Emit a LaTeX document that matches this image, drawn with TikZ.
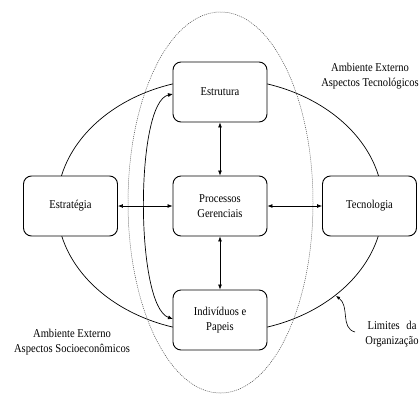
\documentclass[tikz,border=0pt]{standalone}
\usepackage{fontspec}
\setmainfont{Liberation Serif}
\newfontfamily\narrowserif{Liberation Serif}[FakeStretch=0.88]
\usetikzlibrary{arrows.meta}
\tikzset{
  block/.style={draw, line width=0.9pt, rounded corners=8pt, fill=white,
    minimum width=94pt, minimum height=60pt, align=center, font=\narrowserif\fontsize{12}{14.5}\selectfont},
  link/.style={line width=0.7pt, {Latex[length=5pt,width=4pt]}-{Latex[length=5pt,width=4pt]}},
  label/.style={align=center, font=\narrowserif\fontsize{12}{14.5}\selectfont},
  boundary/.style={line width=0.7pt},
  scopeline/.style={line width=0.5pt, draw=black!70, dash pattern=on 1pt off 1pt}
}
\begin{document}
\begin{tikzpicture}[x=1pt,y=-1pt]
\useasboundingbox (0,0) rectangle (420,394);
% organisation boundary and scope of management
\draw[boundary] (220,205.5) ellipse [x radius=163, y radius=127];
\draw[scopeline] (220.5,202.5) ellipse [x radius=92.5, y radius=190.5];
% blocks
\node[block] (est) at (220,92) {Estrutura};
\node[block] (proc) at (220,206) {Processos\\Gerenciais};
\node[block] (estr) at (70.5,206) {Estratégia};
\node[block] (tec) at (369.5,206) {Tecnologia};
\node[block] (ind) at (220,320) {Indivíduos e\\Papeis};
% links
\draw[link] (est) -- (proc);
\draw[link] (proc) -- (ind);
\draw[link] (estr) -- (proc);
\draw[link] (proc) -- (tec);
\coordinate (a1) at (173,94);
\coordinate (a2) at (173,319);
\draw[link] (a1) .. controls (135,102) and (135,306) .. (a2);
% labels
\node[label] (tecno) at (370,76) {Ambiente Externo\\Aspectos Tecnológicos};
\node[label] (socio) at (72,342) {Ambiente Externo\\Aspectos Socioeconômicos};
\node[label] (lim) at (392,334) {Limites \hspace{4pt}da\\Organização};
\coordinate (l1) at (355,332);
\coordinate (l2) at (336,296);
\draw[line width=0.6pt, -{Latex[length=4pt,width=3.5pt]}] (l1) .. controls (340,328) and (350,306) .. (l2);
\end{tikzpicture}
\end{document}
